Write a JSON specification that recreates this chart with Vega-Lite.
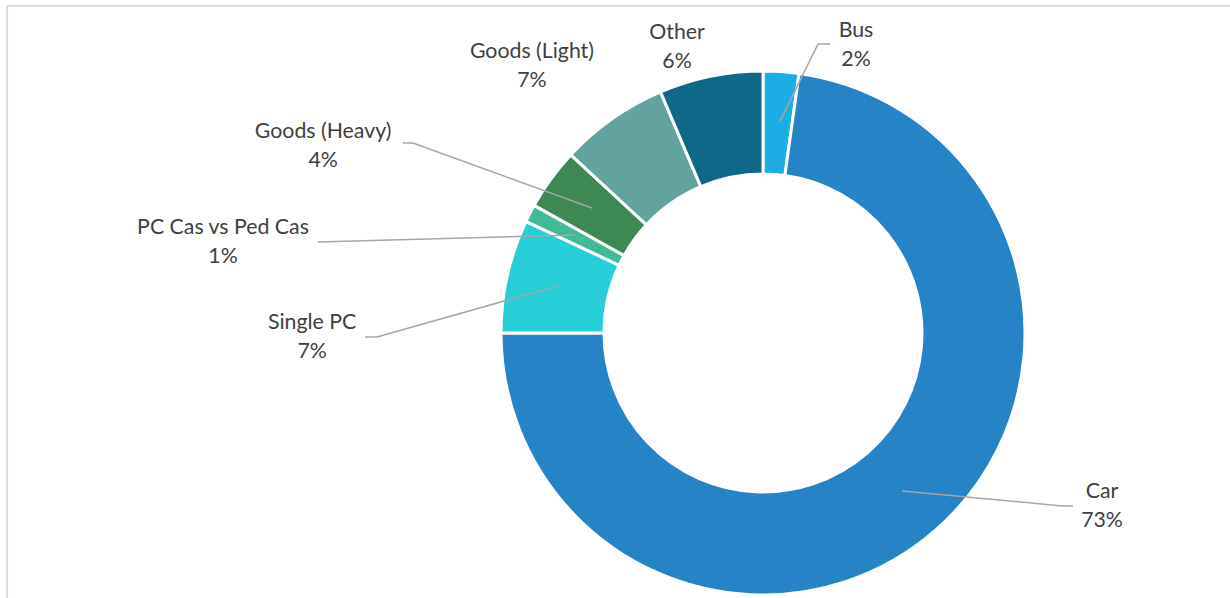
{
  "$schema": "https://vega.github.io/schema/vega-lite/v6.json",
  "width": 934,
  "height": 530,
  "autosize": {"type": "none"},
  "padding": {"left": 296, "top": 68, "right": 0, "bottom": 0},
  "background": "white",
  "config": {"view": {"stroke": null}},
  "datasets": {
    "shares": [
      {"category": "Bus", "idx": 1, "share": 0.022, "lx": 35.5, "ly": 109.9},
      {"category": "Car", "idx": 2, "share": 0.728, "lx": 129.4, "ly": -66.4},
      {"category": "Single PC", "idx": 3, "share": 0.070, "lx": -172.1, "ly": -1.7},
      {"category": "PC Cas vs Ped Cas", "idx": 4, "share": 0.011, "lx": -206.1, "ly": 34.4},
      {"category": "Goods (Heavy)", "idx": 5, "share": 0.038, "lx": -167.9, "ly": 71.2},
      {"category": "Goods (Light)", "idx": 6, "share": 0.067, "lx": -88.2, "ly": 101.7},
      {"category": "Other", "idx": 7, "share": 0.064, "lx": -32.8, "ly": 108.8}
    ],
    "leaders": [
      {"category": "Bus", "seq": 1, "x": 6.5, "y": 80.9},
      {"category": "Bus", "seq": 2, "x": 21.0, "y": 110.3},
      {"category": "Bus", "seq": 3, "x": 25.6, "y": 110.3},
      {"category": "Goods (Heavy)", "seq": 1, "x": -137.4, "y": 72.5},
      {"category": "Goods (Heavy)", "seq": 2, "x": -133.6, "y": 72.5},
      {"category": "Goods (Heavy)", "seq": 3, "x": -65.3, "y": 47.7},
      {"category": "PC Cas vs Ped Cas", "seq": 1, "x": -169.9, "y": 34.7},
      {"category": "PC Cas vs Ped Cas", "seq": 2, "x": -71.8, "y": 37.4},
      {"category": "Single PC", "seq": 1, "x": -151.9, "y": -1.5},
      {"category": "Single PC", "seq": 2, "x": -147.3, "y": -1.5},
      {"category": "Single PC", "seq": 3, "x": -78.6, "y": 17.9},
      {"category": "Car", "seq": 1, "x": 53.1, "y": -60.3},
      {"category": "Car", "seq": 2, "x": 114.1, "y": -66.0},
      {"category": "Car", "seq": 3, "x": 118.3, "y": -66.0}
    ],
    "frame": [
      {"x": -288.5, "x2": 178.3, "y": 124.9, "y2": 124.9},
      {"x": -288.5, "x2": -288.5, "y": 124.9, "y2": -101.2}
    ]
  },
  "layer": [
    {
      "data": {"name": "frame"},
      "mark": {"type": "rule", "color": "#d9d9d9", "strokeWidth": 2},
      "encoding": {
        "x": {"field": "x", "type": "quantitative", "scale": {"domain": [-178.24, 178.24], "nice": false, "zero": false}, "axis": null},
        "x2": {"field": "x2"},
        "y": {"field": "y", "type": "quantitative", "scale": {"domain": [-101.15, 101.15], "nice": false, "zero": false}, "axis": null},
        "y2": {"field": "y2"}
      }
    },
    {
      "data": {"name": "shares"},
      "mark": {"type": "arc", "outerRadius": 262, "innerRadius": 159, "stroke": "white", "strokeWidth": 3},
      "encoding": {
        "theta": {"field": "share", "type": "quantitative", "stack": true},
        "order": {"field": "idx", "type": "quantitative"},
        "color": {
          "field": "category",
          "type": "nominal",
          "scale": {
            "domain": ["Bus", "Car", "Single PC", "PC Cas vs Ped Cas", "Goods (Heavy)", "Goods (Light)", "Other"],
            "range": ["#1CADE4", "#2683C6", "#27CED7", "#42BA97", "#3E8853", "#62A39F", "#106889"]
          },
          "legend": null
        }
      }
    },
    {
      "data": {"name": "leaders"},
      "mark": {"type": "line", "color": "#a6a6a6", "strokeWidth": 1.5},
      "encoding": {
        "x": {"field": "x", "type": "quantitative", "scale": {"domain": [-178.24, 178.24], "nice": false, "zero": false}, "axis": null},
        "y": {"field": "y", "type": "quantitative", "scale": {"domain": [-101.15, 101.15], "nice": false, "zero": false}, "axis": null},
        "detail": {"field": "category"},
        "order": {"field": "seq", "type": "quantitative"}
      }
    },
    {
      "data": {"name": "shares"},
      "mark": {"type": "text", "font": "Lato", "fontSize": 21.3, "color": "#404040", "align": "center", "baseline": "middle", "dy": -14.5},
      "encoding": {
        "x": {"field": "lx", "type": "quantitative", "scale": {"domain": [-178.24, 178.24], "nice": false, "zero": false}, "axis": null},
        "y": {"field": "ly", "type": "quantitative", "scale": {"domain": [-101.15, 101.15], "nice": false, "zero": false}, "axis": null},
        "text": {"field": "category"}
      }
    },
    {
      "data": {"name": "shares"},
      "mark": {"type": "text", "font": "Lato", "fontSize": 21.3, "color": "#404040", "align": "center", "baseline": "middle", "dy": 14.5},
      "encoding": {
        "x": {"field": "lx", "type": "quantitative", "scale": {"domain": [-178.24, 178.24], "nice": false, "zero": false}, "axis": null},
        "y": {"field": "ly", "type": "quantitative", "scale": {"domain": [-101.15, 101.15], "nice": false, "zero": false}, "axis": null},
        "text": {"field": "share", "format": ".0%"}
      }
    }
  ]
}
